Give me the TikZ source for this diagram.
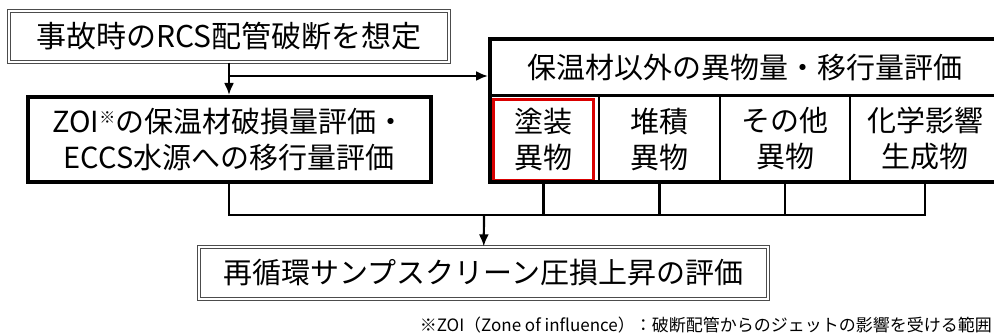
\documentclass[tikz,border=0pt]{standalone}
\usepackage{fontspec}
\setmainfont{Noto Sans CJK JP}
\usepackage{tikz}
\usetikzlibrary{arrows.meta,shapes}
\tikzstyle{frame}=[draw=black!70, double, line width=1.2pt, double distance=2pt, inner sep=0pt, align=center]
\tikzstyle{heavy}=[draw, line width=4pt, inner sep=0pt, align=center]
\tikzstyle{cell}=[draw, line width=1.5pt, inner sep=0pt, outer sep=0pt, align=center, minimum height=86pt]
\tikzstyle{paint}=[cell, draw=red!85!black, line width=3pt, minimum width=100pt, minimum height=81pt]
\tikzstyle{link}=[draw, line width=2.2pt]
\tikzstyle{arrow}=[link, -{Latex[length=12pt,width=10pt]}]

\begin{document}
\begin{tikzpicture}[x=1pt, y=-1pt, font=\fontsize{29}{36}\selectfont]
    \useasboundingbox (0,0) rectangle (994,336);
    \clip (0,0) rectangle (994,336);
    % First we draw the boxes
    \node[frame, minimum width=440pt, minimum height=51pt, font=\fontsize{30}{36}\selectfont] (accident) at (229,36.5) {事故時のRCS配管破断を想定};
    \node[heavy, minimum width=403pt, minimum height=85pt] (zoi) at (229,139.5)
        {ZOI\raisebox{0.3em}{\fontsize{16}{16}\selectfont ※}の保温材破損量評価・\\ECCS水源への移行量評価};
    \node[cell, line width=3pt, minimum width=510pt, minimum height=57pt] (other) at (745,67.5) {保温材以外の異物量・移行量評価};
    \node[paint] (c1) at (543.5,140) {塗装\\異物};
    \foreach \pos/\name/\cw/\txt in {{(659.5,139)/c2/121/堆積\\異物}, {(785,139)/c3/130/その他\\異物}, {(925,139)/c4/150/化学影響\\生成物}}
        \node[cell, minimum width=\cw pt] (\name) at \pos {\txt};
    \draw[line width=4pt] (other.north west) rectangle (c4.south east);
    \node[frame, minimum width=569pt, minimum height=52pt] (result) at (483.5,273) {再循環サンプスクリーン圧損上昇の評価};
    \node[anchor=east, inner sep=0pt, font=\fontsize{17}{20}\selectfont] (note) at (992,325)
        {※ZOI（Zone of influence）：破断配管からのジェットの影響を受ける範囲};

    % Then the connectors
    \coordinate (branch) at (229,76);
    \coordinate (merge) at (484,215);
    \path[arrow] (accident) -- (zoi);
    \path[arrow, shorten >=2pt] (branch) -- (branch -| other.west);
    \path[link] (zoi) |- (merge) -| (c4);
    \foreach \name in {c1,c2,c3}
        \path[link] (\name |- c4.south) -- (\name |- merge);
    \path[arrow] (merge) -- (result);
\end{tikzpicture}
\end{document}
